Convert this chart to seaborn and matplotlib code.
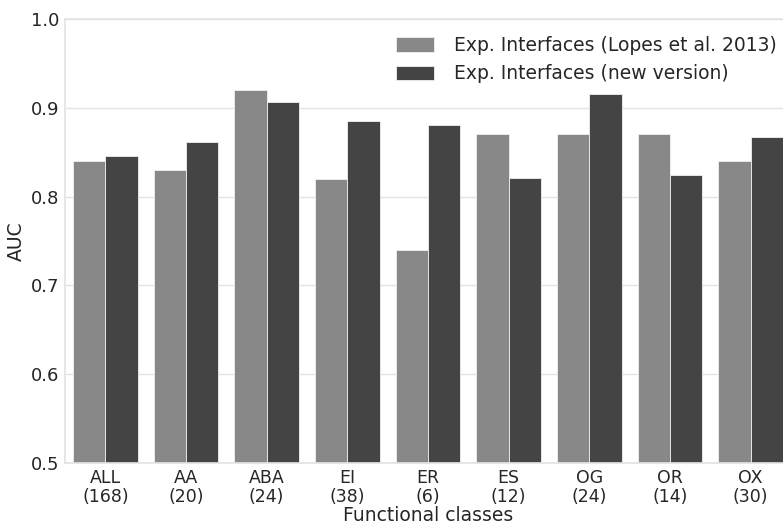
import matplotlib
matplotlib.use("Agg")
import matplotlib.pyplot as plt
import seaborn as sns
import pandas as pd

classes = ["ALL", "AA", "ABA", "EI", "ER", "ES", "OG", "OR", "OX"]
counts = [168, 20, 24, 38, 6, 12, 24, 14, 30]
auc_lopes2013 = [0.84, 0.83, 0.92, 0.82, 0.74, 0.87, 0.87, 0.87, 0.84]
auc_new = [0.846, 0.861, 0.906, 0.885, 0.881, 0.821, 0.916, 0.824, 0.867]
series_names = ["Exp. Interfaces (Lopes et al. 2013)", "Exp. Interfaces (new version)"]

df = pd.DataFrame({
    "cls": classes * 2,
    "AUC": auc_lopes2013 + auc_new,
    "series": [series_names[0]] * len(classes) + [series_names[1]] * len(classes),
})

sns.set_theme(style="whitegrid")
plt.rcParams["font.family"] = ["DejaVu Sans"]

fig = plt.figure(figsize=(7.83, 5.24), dpi=100)
ax = fig.add_axes([65 / 783, 1 - 463 / 524, 726 / 783, 444 / 524])

sns.barplot(data=df, x="cls", y="AUC", hue="series", palette=["#888888", "#444444"],
            saturation=1, ax=ax, errorbar=None, edgecolor="#f0f0f0", linewidth=0.6)

ax.set_ylim(0.5, 1.0)
ax.set_xlim(-0.5, len(classes) - 0.5)
ax.set_yticks([0.5, 0.6, 0.7, 0.8, 0.9, 1.0])
ax.set_yticklabels(["0.5", "0.6", "0.7", "0.8", "0.9", "1.0"], fontsize=13, color="#262626")
ax.set_xticks(range(len(classes)))
ax.set_xticklabels([f"{c}\n({n})" for c, n in zip(classes, counts)], fontsize=12.5,
                   color="#262626", linespacing=1.1)
ax.xaxis.grid(False)
ax.yaxis.grid(True, color="#e3e3e3", linewidth=1)
for s in ax.spines.values():
    s.set_color("#e3e3e3")
ax.set_xlabel("Functional classes", fontsize=13.5, color="#262626", labelpad=0)
ax.set_ylabel("AUC", fontsize=13.5, color="#262626")
ax.tick_params(axis="both", length=0, pad=4)

ax.legend(loc="upper right", bbox_to_anchor=(1.003, 1.0), frameon=False, fontsize=13.5,
          handlelength=2.0, handleheight=0.8, labelspacing=0.5, handletextpad=1.05)

fig.savefig("out.png", dpi=100)
